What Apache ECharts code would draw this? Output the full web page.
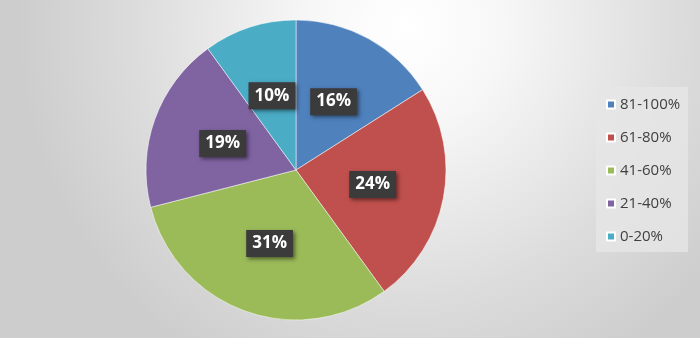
<!DOCTYPE html>
<html>
<head>
<meta charset="utf-8">
<script src="https://cdn.jsdelivr.net/npm/echarts@6/dist/echarts.min.js"></script>
<style>
  html, body { margin: 0; padding: 0; }
  #main { width: 700px; height: 338px; }
</style>
</head>
<body>
<div id="main"></div>
<script>
var categories = ['81-100%', '61-80%', '41-60%', '21-40%', '0-20%'];
var values = [16, 24, 31, 19, 10];
var colors = ['#4f81bd', '#c0504d', '#9bbb59', '#8064a2', '#4bacc6'];

window.onload = function() {
  var chartDom = document.getElementById('main');
  var myChart = echarts.init(chartDom);

  var pieData = [];
  for (var i = 0; i < categories.length; i++) {
    pieData.push({ name: categories[i], value: values[i] });
  }

  var option = {
    // 背景：上方偏右最亮，四周渐灰
    backgroundColor: {
      type: 'radial', x: 0.58, y: 0.08, r: 1.15,
      colorStops: [
        { offset: 0, color: '#ffffff' },
        { offset: 0.25, color: '#f7f7f7' },
        { offset: 0.7, color: '#dcdcdc' },
        { offset: 1, color: '#cdcdcd' }
      ]
    },
    color: colors,
    legend: {
      orient: 'vertical',
      left: 596,
      top: 87,
      width: 94,
      height: 166,
      padding: [10, 8, 8, 10],
      backgroundColor: 'rgba(230,230,230,0.8)',
      itemWidth: 8,
      itemHeight: 8,
      itemGap: 18,
      icon: 'rect',
      textStyle: { fontFamily: 'Open Sans', fontSize: 15, lineHeight: 15, color: '#404040' },
      data: categories
    },
    series: [{
      type: 'pie',
      center: [296, 170],
      radius: 150,
      startAngle: 90,
      clockwise: true,
      animation: false,
      itemStyle: { borderColor: '#ffffff', borderWidth: 0.5 },
      label: {
        position: 'inside',
        formatter: '{c}%',
        color: '#ffffff',
        fontFamily: 'Open Sans',
        fontWeight: 'bold',
        fontSize: 17,
        backgroundColor: '#3b3b3b',
        padding: [6, 6, 4, 6],
        shadowColor: 'rgba(0,0,0,0.5)',
        shadowBlur: 4,
        shadowOffsetX: 2,
        shadowOffsetY: 2
      },
      labelLine: { show: false },
      emphasis: { disabled: true },
      data: pieData
    }]
  };
  option && myChart.setOption(option);
};
</script>
</body>
</html>
